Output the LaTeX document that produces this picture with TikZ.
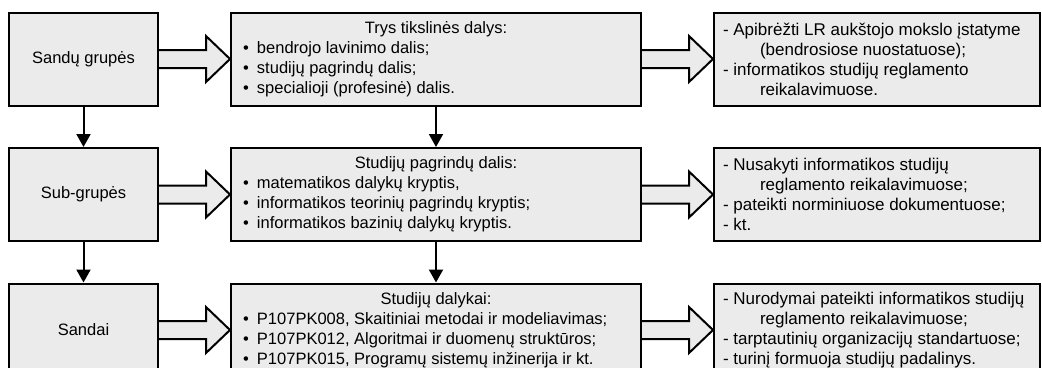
\documentclass[tikz,border=0pt]{standalone}
\usepackage{fontspec}
\setmainfont{Liberation Sans}
\usetikzlibrary{calc,arrows.meta}
\definecolor{boxgray}{RGB}{235,235,235}
\newcommand\blt{\makebox[14pt][l]{\textbullet}}
\newcommand\ind{\hspace*{37pt}}
\begin{document}
\begin{tikzpicture}[x=1pt,y=-1pt,
  box/.style={draw=black, line width=2pt, fill=boxgray, inner sep=0pt,
    minimum height=93pt, font=\fontsize{16.5}{20}\selectfont},
  leftbox/.style={box, minimum width=149pt},
  midbox/.style={box, minimum width=410pt},
  rightbox/.style={box, minimum width=326pt, font=\fontsize{17}{20}\selectfont},
  downarrow/.style={line width=2pt, -{Triangle[length=13pt,width=14pt]}},
  blockarrow/.style={draw=black, line width=2pt, fill=boxgray, line join=miter}]
\useasboundingbox (0,0) rectangle (1042,367);
\clip (0,0) rectangle (1042,367);
% row 1
\node[leftbox] (l1) at (83.5,59) {Sandų grupės};
\node[midbox] (m1) at (436,59) {\parbox{386pt}{\centering Trys tikslinės dalys:\par\raggedright
  \blt bendrojo lavinimo dalis;\par
  \blt studijų pagrindų dalis;\par
  \blt specialioji (profesinė) dalis.}};
\node[rightbox] (r1) at (877,59) {\parbox{308pt}{\raggedright
  - Apibrėžti LR aukštojo mokslo įstatyme\par
  \ind(bendrosiose nuostatuose);\par
  - informatikos studijų reglamento\par
  \ind reikalavimuose.}};
% row 2
\node[leftbox] (l2) at (83.5,194.5) {Sub-grupės};
\node[midbox] (m2) at (436,194.5) {\parbox{386pt}{\centering Studijų pagrindų dalis:\par\raggedright
  \blt matematikos dalykų kryptis,\par
  \blt informatikos teorinių pagrindų kryptis;\par
  \blt informatikos bazinių dalykų kryptis.}};
\node[rightbox] (r2) at (877,194.5) {\parbox{308pt}{\raggedright
  - Nusakyti informatikos studijų\par
  \ind reglamento reikalavimuose;\par
  - pateikti norminiuose dokumentuose;\par
  - kt.}};
% row 3
\node[leftbox] (l3) at (83.5,330) {Sandai};
\node[midbox] (m3) at (436,330) {\parbox{386pt}{\centering Studijų dalykai:\par\raggedright
  \blt P107PK008, Skaitiniai metodai ir modeliavimas;\par
  \blt P107PK012, Algoritmai ir duomenų struktūros;\par
  \blt P107PK015, Programų sistemų inžinerija ir kt.}};
\node[rightbox] (r3) at (877,330) {\parbox{308pt}{\raggedright
  - Nurodymai pateikti informatikos studijų\par
  \ind reglamento reikalavimuose;\par
  - tarptautinių organizacijų standartuose;\par
  - turinį formuoja studijų padalinys.}};
% block arrows
\foreach \a/\b in {l1/m1,m1/r1,l2/m2,m2/r2,l3/m3,m3/r3}{
  \draw[blockarrow] ($(\a.east)+(0,-9)$) -- ($(\b.west)+(-24,-9)$)
    -- ($(\b.west)+(-24,-23)$) -- (\b.west) -- ($(\b.west)+(-24,23)$)
    -- ($(\b.west)+(-24,9)$) -- ($(\a.east)+(0,9)$);
}
% down arrows
\draw[downarrow] (l1.south) -- (l2.north);
\draw[downarrow] (l2.south) -- (l3.north);
\draw[downarrow] (m1.south) -- (m2.north);
\draw[downarrow] (m2.south) -- (m3.north);
\end{tikzpicture}
\end{document}
